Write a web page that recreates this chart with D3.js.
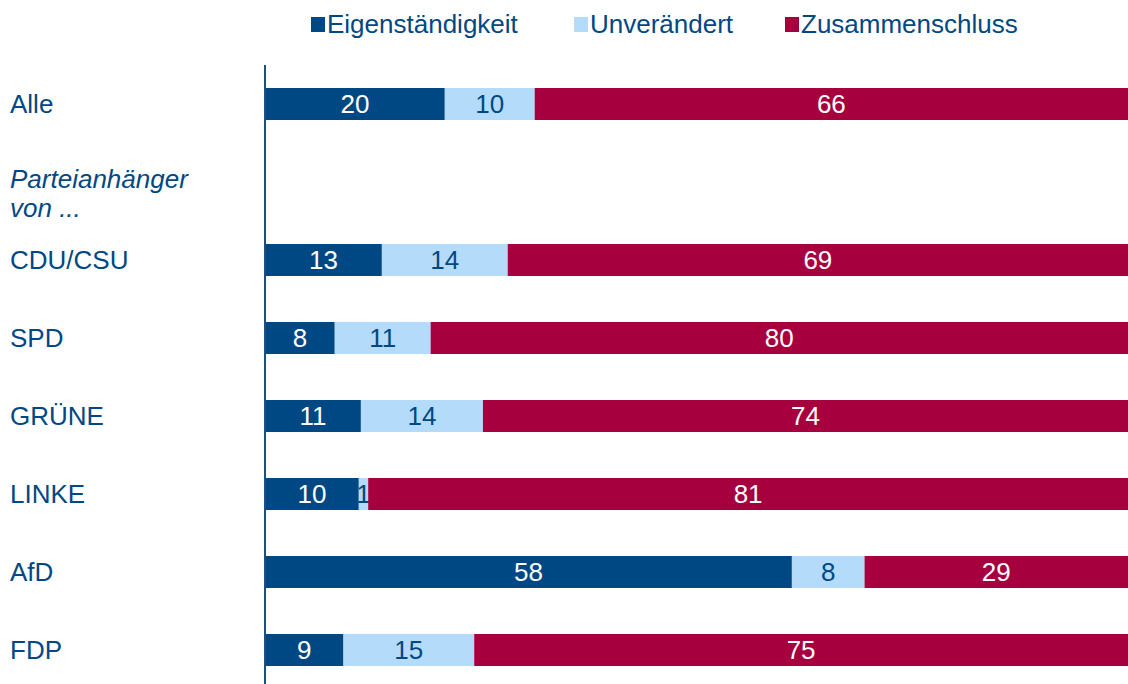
<!DOCTYPE html>
<html>
<head>
<meta charset="utf-8">
<script src="https://cdn.jsdelivr.net/npm/d3@7"></script>
<style>
  body { margin: 0; background: #fff; }
  text { font-family: "Liberation Sans", Arial, sans-serif; }
</style>
</head>
<body>
<div id="chart"></div>
<script>
// data
const categories = ["Alle", "Parteianhänger von ...", "CDU/CSU", "SPD", "GRÜNE", "LINKE", "AfD", "FDP"];
const seriesNames = ["Eigenständigkeit", "Unverändert", "Zusammenschluss"];
const eigen = [20, null, 13, 8, 11, 10, 58, 9];
const unver = [10, null, 14, 11, 14, 1, 8, 15];
const zusam = [66, null, 69, 80, 74, 81, 29, 75];
const colors = ["#004884", "#b4dcfa", "#a6003f"];
const labelColors = ["#fff", "#004884", "#fff"];

const width = 1128, height = 684;
const margin = {left: 265, right: 0, top: 65};
const rowStep = 78, barH = 32;

const svg = d3.select("#chart").append("svg")
    .attr("width", width)
    .attr("height", height);

// build rows
let rows = categories.map((c, i) => ({
    cat: c,
    "Eigenständigkeit": eigen[i],
    "Unverändert": unver[i],
    "Zusammenschluss": zusam[i]
}));
let barRows = rows.filter(d => d["Eigenständigkeit"] != null);

// scales
const y = d3.scaleBand()
    .domain(categories)
    .range([margin.top, margin.top + rowStep * categories.length])
    .padding(0);

const x = d3.scaleLinear()
    .domain([0, 1])
    .range([margin.left, width - margin.right]);

const stack = d3.stack()
    .keys(seriesNames)
    .offset(d3.stackOffsetExpand);
const series = stack(barRows);

// bars
const groups = svg.selectAll(".series")
    .data(series)
    .enter().append("g")
    .attr("class", "series")
    .attr("fill", (d, i) => colors[i]);

groups.selectAll("rect")
    .data(d => d)
    .enter().append("rect")
    .attr("x", d => x(d[0]))
    .attr("width", d => x(d[1]) - x(d[0]))
    .attr("y", d => y(d.data.cat) + y.bandwidth() / 2 - barH / 2)
    .attr("height", barH);

// value labels
groups.each(function (s, i) {
    d3.select(this).selectAll("text")
        .data(s)
        .enter().append("text")
        .attr("x", d => (x(d[0]) + x(d[1])) / 2)
        .attr("y", d => y(d.data.cat) + y.bandwidth() / 2)
        .attr("dy", "0.35em")
        .attr("text-anchor", "middle")
        .attr("font-size", 26)
        .attr("fill", labelColors[i])
        .text(d => d.data[s.key]);
});

// axis line
svg.append("line")
    .attr("x1", margin.left).attr("x2", margin.left)
    .attr("y1", margin.top).attr("y2", height)
    .attr("stroke", "#1f4f80")
    .attr("stroke-width", 2);

// category labels
rows.forEach(r => {
    const cy = y(r.cat) + y.bandwidth() / 2;
    if (r["Eigenständigkeit"] == null) {
        const t = svg.append("text")
            .attr("x", 10)
            .attr("y", cy - 3)
            .attr("font-size", 26)
            .attr("font-style", "italic")
            .attr("fill", "#004884");
        t.append("tspan").attr("x", 10).attr("dy", "0.35em").text("Parteianhänger");
        t.append("tspan").attr("x", 10).attr("dy", 29).text("von ...");
    } else {
        svg.append("text")
            .attr("x", 10)
            .attr("y", cy)
            .attr("dy", "0.35em")
            .attr("font-size", 26)
            .attr("fill", "#004884")
            .text(r.cat);
    }
});

// legend
const legendX = [311, 574, 785];
const legend = svg.append("g").attr("class", "legend");
seriesNames.forEach((n, i) => {
    legend.append("rect")
        .attr("x", legendX[i])
        .attr("y", 17)
        .attr("width", 14)
        .attr("height", 15)
        .attr("fill", colors[i]);
    legend.append("text")
        .attr("x", legendX[i] + 16)
        .attr("y", 24)
        .attr("dy", "0.35em")
        .attr("font-size", 26)
        .attr("fill", "#004884")
        .text(n);
});
</script>
</body>
</html>
